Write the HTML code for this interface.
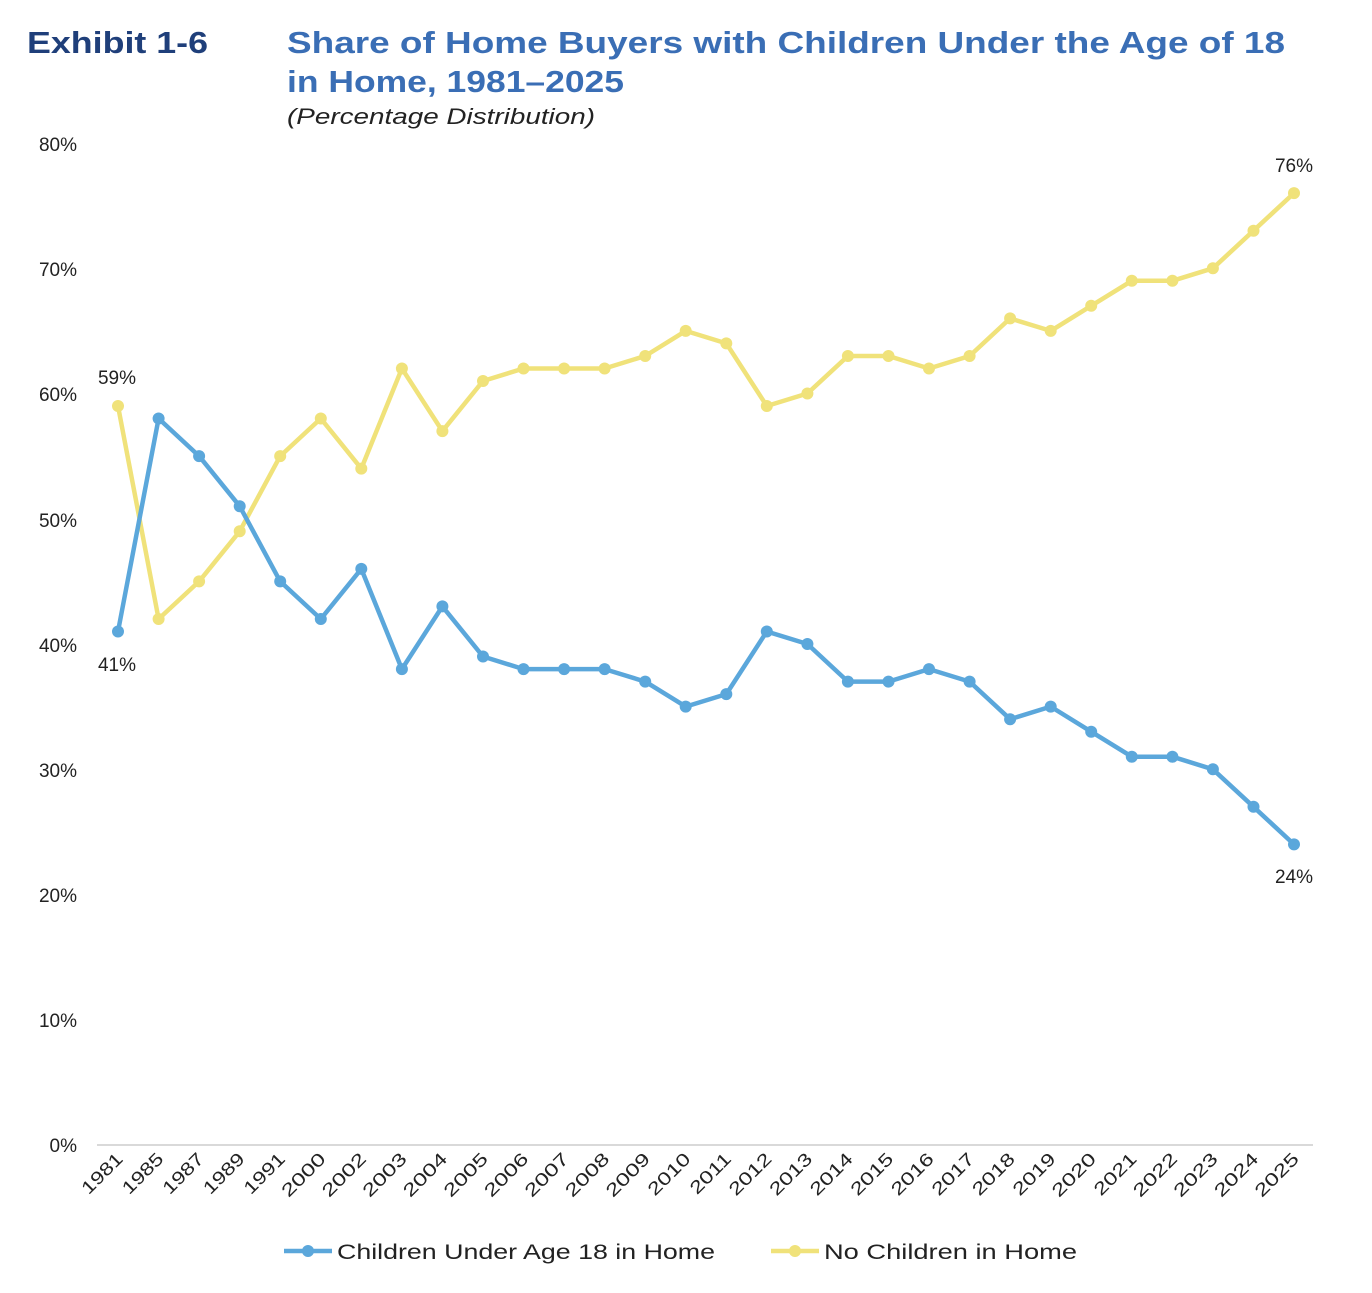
<!DOCTYPE html>
<html><head><meta charset="utf-8"><style>
body{margin:0;background:#fff;width:1372px;height:1288px;overflow:hidden;font-family:"Liberation Sans",sans-serif}
</style></head><body>
<svg width="1372" height="1288" viewBox="0 0 1372 1288" xmlns="http://www.w3.org/2000/svg" font-family="Liberation Sans, sans-serif">
<text x="27" y="53" font-size="31" font-weight="bold" fill="#1F3F7A" textLength="181" lengthAdjust="spacingAndGlyphs">Exhibit 1-6</text>
<text x="287" y="53" font-size="31" font-weight="bold" fill="#3A6EB5" textLength="998" lengthAdjust="spacingAndGlyphs">Share of Home Buyers with Children Under the Age of 18</text>
<text x="287" y="92" font-size="31" font-weight="bold" fill="#3A6EB5" textLength="337" lengthAdjust="spacingAndGlyphs">in Home, 1981–2025</text>
<text x="287" y="124" font-size="22" font-style="italic" fill="#222" textLength="308" lengthAdjust="spacingAndGlyphs">(Percentage Distribution)</text>
<g font-size="19" fill="#222" text-anchor="end">
<text x="77" y="151">80%</text><text x="77" y="276">70%</text><text x="77" y="401">60%</text><text x="77" y="527">50%</text><text x="77" y="652">40%</text><text x="77" y="777">30%</text><text x="77" y="902">20%</text><text x="77" y="1027">10%</text><text x="77" y="1152">0%</text>
</g>
<line x1="97" y1="1145" x2="1313" y2="1145" stroke="#d9d9d9" stroke-width="2"/>
<g font-size="18" fill="#222" text-anchor="end">
<text transform="translate(124,1160) rotate(-45)" textLength="50" lengthAdjust="spacingAndGlyphs">1981</text>
<text transform="translate(164.6,1160) rotate(-45)" textLength="50" lengthAdjust="spacingAndGlyphs">1985</text>
<text transform="translate(205.1,1160) rotate(-45)" textLength="50" lengthAdjust="spacingAndGlyphs">1987</text>
<text transform="translate(245.7,1160) rotate(-45)" textLength="50" lengthAdjust="spacingAndGlyphs">1989</text>
<text transform="translate(286.2,1160) rotate(-45)" textLength="50" lengthAdjust="spacingAndGlyphs">1991</text>
<text transform="translate(326.8,1160) rotate(-45)" textLength="54" lengthAdjust="spacingAndGlyphs">2000</text>
<text transform="translate(367.3,1160) rotate(-45)" textLength="54" lengthAdjust="spacingAndGlyphs">2002</text>
<text transform="translate(407.9,1160) rotate(-45)" textLength="54" lengthAdjust="spacingAndGlyphs">2003</text>
<text transform="translate(448.4,1160) rotate(-45)" textLength="54" lengthAdjust="spacingAndGlyphs">2004</text>
<text transform="translate(489,1160) rotate(-45)" textLength="54" lengthAdjust="spacingAndGlyphs">2005</text>
<text transform="translate(529.5,1160) rotate(-45)" textLength="54" lengthAdjust="spacingAndGlyphs">2006</text>
<text transform="translate(570.1,1160) rotate(-45)" textLength="54" lengthAdjust="spacingAndGlyphs">2007</text>
<text transform="translate(610.6,1160) rotate(-45)" textLength="54" lengthAdjust="spacingAndGlyphs">2008</text>
<text transform="translate(651.2,1160) rotate(-45)" textLength="54" lengthAdjust="spacingAndGlyphs">2009</text>
<text transform="translate(691.7,1160) rotate(-45)" textLength="52" lengthAdjust="spacingAndGlyphs">2010</text>
<text transform="translate(732.3,1160) rotate(-45)" textLength="50" lengthAdjust="spacingAndGlyphs">2011</text>
<text transform="translate(772.8,1160) rotate(-45)" textLength="52" lengthAdjust="spacingAndGlyphs">2012</text>
<text transform="translate(813.4,1160) rotate(-45)" textLength="52" lengthAdjust="spacingAndGlyphs">2013</text>
<text transform="translate(853.9,1160) rotate(-45)" textLength="52" lengthAdjust="spacingAndGlyphs">2014</text>
<text transform="translate(894.5,1160) rotate(-45)" textLength="52" lengthAdjust="spacingAndGlyphs">2015</text>
<text transform="translate(935,1160) rotate(-45)" textLength="52" lengthAdjust="spacingAndGlyphs">2016</text>
<text transform="translate(975.6,1160) rotate(-45)" textLength="52" lengthAdjust="spacingAndGlyphs">2017</text>
<text transform="translate(1016.1,1160) rotate(-45)" textLength="52" lengthAdjust="spacingAndGlyphs">2018</text>
<text transform="translate(1056.7,1160) rotate(-45)" textLength="52" lengthAdjust="spacingAndGlyphs">2019</text>
<text transform="translate(1097.2,1160) rotate(-45)" textLength="54" lengthAdjust="spacingAndGlyphs">2020</text>
<text transform="translate(1137.8,1160) rotate(-45)" textLength="52" lengthAdjust="spacingAndGlyphs">2021</text>
<text transform="translate(1178.4,1160) rotate(-45)" textLength="54" lengthAdjust="spacingAndGlyphs">2022</text>
<text transform="translate(1218.9,1160) rotate(-45)" textLength="54" lengthAdjust="spacingAndGlyphs">2023</text>
<text transform="translate(1259.5,1160) rotate(-45)" textLength="54" lengthAdjust="spacingAndGlyphs">2024</text>
<text transform="translate(1300,1160) rotate(-45)" textLength="54" lengthAdjust="spacingAndGlyphs">2025</text>
</g>
<g>
<polyline fill="none" stroke="#F0E27A" stroke-width="4.5" stroke-linejoin="round" points="118,406 158.6,619 199.1,581.4 239.7,531.3 280.2,456.1 320.8,418.5 361.3,468.6 401.9,368.5 442.4,431.1 483,381 523.5,368.5 564.1,368.5 604.6,368.5 645.2,356 685.7,330.9 726.3,343.4 766.8,406 807.4,393.5 847.9,356 888.5,356 929,368.5 969.6,356 1010.1,318.4 1050.7,330.9 1091.2,305.8 1131.8,280.8 1172.4,280.8 1212.9,268.3 1253.5,230.7 1294,193.1"/>
<g fill="#F0E27A">
<circle cx="118" cy="406" r="6"/><circle cx="158.6" cy="619" r="6"/><circle cx="199.1" cy="581.4" r="6"/><circle cx="239.7" cy="531.3" r="6"/><circle cx="280.2" cy="456.1" r="6"/><circle cx="320.8" cy="418.5" r="6"/><circle cx="361.3" cy="468.6" r="6"/><circle cx="401.9" cy="368.5" r="6"/><circle cx="442.4" cy="431.1" r="6"/><circle cx="483" cy="381" r="6"/><circle cx="523.5" cy="368.5" r="6"/><circle cx="564.1" cy="368.5" r="6"/><circle cx="604.6" cy="368.5" r="6"/><circle cx="645.2" cy="356" r="6"/><circle cx="685.7" cy="330.9" r="6"/><circle cx="726.3" cy="343.4" r="6"/><circle cx="766.8" cy="406" r="6"/><circle cx="807.4" cy="393.5" r="6"/><circle cx="847.9" cy="356" r="6"/><circle cx="888.5" cy="356" r="6"/><circle cx="929" cy="368.5" r="6"/><circle cx="969.6" cy="356" r="6"/><circle cx="1010.1" cy="318.4" r="6"/><circle cx="1050.7" cy="330.9" r="6"/><circle cx="1091.2" cy="305.8" r="6"/><circle cx="1131.8" cy="280.8" r="6"/><circle cx="1172.4" cy="280.8" r="6"/><circle cx="1212.9" cy="268.3" r="6"/><circle cx="1253.5" cy="230.7" r="6"/><circle cx="1294" cy="193.1" r="6"/>
</g></g>
<g>
<polyline fill="none" stroke="#5BA7DB" stroke-width="4.5" stroke-linejoin="round" points="118,631.5 158.6,418.5 199.1,456.1 239.7,506.2 280.2,581.4 320.8,619 361.3,568.9 401.9,669.1 442.4,606.4 483,656.5 523.5,669.1 564.1,669.1 604.6,669.1 645.2,681.6 685.7,706.6 726.3,694.1 766.8,631.5 807.4,644 847.9,681.6 888.5,681.6 929,669.1 969.6,681.6 1010.1,719.2 1050.7,706.6 1091.2,731.7 1131.8,756.7 1172.4,756.7 1212.9,769.3 1253.5,806.8 1294,844.4"/>
<g fill="#5BA7DB">
<circle cx="118" cy="631.5" r="6"/><circle cx="158.6" cy="418.5" r="6"/><circle cx="199.1" cy="456.1" r="6"/><circle cx="239.7" cy="506.2" r="6"/><circle cx="280.2" cy="581.4" r="6"/><circle cx="320.8" cy="619" r="6"/><circle cx="361.3" cy="568.9" r="6"/><circle cx="401.9" cy="669.1" r="6"/><circle cx="442.4" cy="606.4" r="6"/><circle cx="483" cy="656.5" r="6"/><circle cx="523.5" cy="669.1" r="6"/><circle cx="564.1" cy="669.1" r="6"/><circle cx="604.6" cy="669.1" r="6"/><circle cx="645.2" cy="681.6" r="6"/><circle cx="685.7" cy="706.6" r="6"/><circle cx="726.3" cy="694.1" r="6"/><circle cx="766.8" cy="631.5" r="6"/><circle cx="807.4" cy="644" r="6"/><circle cx="847.9" cy="681.6" r="6"/><circle cx="888.5" cy="681.6" r="6"/><circle cx="929" cy="669.1" r="6"/><circle cx="969.6" cy="681.6" r="6"/><circle cx="1010.1" cy="719.2" r="6"/><circle cx="1050.7" cy="706.6" r="6"/><circle cx="1091.2" cy="731.7" r="6"/><circle cx="1131.8" cy="756.7" r="6"/><circle cx="1172.4" cy="756.7" r="6"/><circle cx="1212.9" cy="769.3" r="6"/><circle cx="1253.5" cy="806.8" r="6"/><circle cx="1294" cy="844.4" r="6"/>
</g></g>
<g font-size="19" fill="#222" text-anchor="middle">
<text x="117" y="384">59%</text>
<text x="117" y="671">41%</text>
<text x="1294" y="172">76%</text>
<text x="1294" y="883">24%</text>
</g>
<line x1="284" y1="1251" x2="332" y2="1251" stroke="#5BA7DB" stroke-width="4.5"/>
<circle cx="308" cy="1251" r="6" fill="#5BA7DB"/>
<text x="337" y="1259" font-size="21" fill="#222" textLength="378" lengthAdjust="spacingAndGlyphs">Children Under Age 18 in Home</text>
<line x1="771" y1="1251" x2="819" y2="1251" stroke="#F0E27A" stroke-width="4.5"/>
<circle cx="795" cy="1251" r="6" fill="#F0E27A"/>
<text x="824" y="1259" font-size="21" fill="#222" textLength="253" lengthAdjust="spacingAndGlyphs">No Children in Home</text>
</svg>
</body></html>
